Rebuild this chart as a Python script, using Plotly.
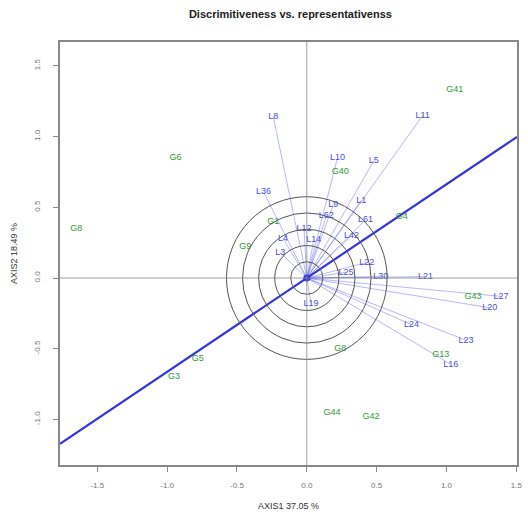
import numpy as np
import plotly.graph_objects as go

# Genotypes (green)
gen_labels = ["G41", "G6", "G8", "G40", "G4", "G1", "G9", "G43", "G8", "G13", "G5", "G3", "G44", "G42"]
gen_x = [1.06, -0.94, -1.65, 0.24, 0.68, -0.24, -0.44, 1.19, 0.24, 0.96, -0.78, -0.95, 0.18, 0.46]
gen_y = [1.33, 0.85, 0.35, 0.75, 0.43, 0.40, 0.22, -0.13, -0.50, -0.54, -0.57, -0.70, -0.95, -0.98]

# Environments (blue vectors)
env_labels = ["L8", "L11", "L10", "L5", "L36", "L1", "L9", "L62", "L61", "L12", "L42", "L4",
              "L14", "L3", "L22", "L25", "L30", "L21", "L27", "L20", "L24", "L23", "L16", "L19"]
env_x = [-0.24, 0.83, 0.22, 0.48, -0.31, 0.39, 0.19, 0.14, 0.42, -0.02, 0.32, -0.17,
         0.05, -0.19, 0.43, 0.28, 0.53, 0.85, 1.39, 1.31, 0.75, 1.14, 1.03, 0.03]
env_y = [1.14, 1.15, 0.85, 0.83, 0.61, 0.55, 0.52, 0.44, 0.41, 0.35, 0.30, 0.28,
         0.27, 0.18, 0.11, 0.04, 0.01, 0.01, -0.13, -0.21, -0.33, -0.44, -0.61, -0.18]

circle_radii = [0.115, 0.23, 0.345, 0.46, 0.575]
aea_slope = 0.663

x_range = [-1.767, 1.505]
y_range = [-1.322, 1.669]
ticks = [-1.5, -1.0, -0.5, 0.0, 0.5, 1.0, 1.5]

fig = go.Figure()

# Environment vectors
vx, vy = [], []
for x, y in zip(env_x, env_y):
    vx += [0, x, None]
    vy += [0, y, None]
fig.add_trace(go.Scatter(x=vx, y=vy, mode="lines",
                         line=dict(color="rgba(90,90,240,0.55)", width=0.8),
                         hoverinfo="skip", showlegend=False))

# Circles
for r in circle_radii:
    fig.add_shape(type="circle", xref="x", yref="y", x0=-r, y0=-r, x1=r, y1=r,
                  line=dict(color="#555555", width=1))

# Cross lines
fig.add_shape(type="line", xref="x", yref="y", x0=x_range[0], x1=x_range[1], y0=0, y1=0,
              line=dict(color="#888888", width=0.8))
fig.add_shape(type="line", xref="x", yref="y", x0=0, x1=0, y0=y_range[0], y1=y_range[1],
              line=dict(color="#888888", width=0.8))

# Average environment axis
fig.add_trace(go.Scatter(x=[x_range[0], x_range[1]],
                         y=[aea_slope * x_range[0], aea_slope * x_range[1]],
                         mode="lines", line=dict(color="#3535e0", width=2.2),
                         hoverinfo="skip", showlegend=False))
fig.add_trace(go.Scatter(x=[0], y=[0], mode="markers",
                         marker=dict(color="#3535e0", size=7, symbol="circle"),
                         hoverinfo="skip", showlegend=False))

# Genotype labels
fig.add_trace(go.Scatter(x=gen_x, y=gen_y, mode="text", text=gen_labels,
                         textfont=dict(color="#2f9a2f", size=9, family="Liberation Sans"),
                         showlegend=False))

# Environment labels
fig.add_trace(go.Scatter(x=env_x, y=env_y, mode="text", text=env_labels,
                         textfont=dict(color="#4a4ae6", size=9, family="Liberation Sans"),
                         showlegend=False))

axis_common = dict(showgrid=False, zeroline=False, showline=True, mirror=True,
                   linecolor="#888888", linewidth=1.8, ticks="outside", ticklen=5,
                   tickcolor="#888888", tickfont=dict(size=8, color="#777777",
                                                      family="Liberation Sans"),
                   tickvals=ticks, ticktext=[f"{t:.1f}" for t in ticks])

fig.update_layout(
    width=528, height=519,
    margin=dict(l=60, r=6, t=42, b=54),
    plot_bgcolor="white", paper_bgcolor="white",
    title=dict(text="<b>Discrimitiveness vs. representativenss</b>", x=0.55, xanchor="center",
               y=0.972, yanchor="middle",
               font=dict(size=11, color="#222222", family="Liberation Sans")),
    xaxis=dict(range=x_range, ticklabelstandoff=6,
               title=dict(text="AXIS1 37.05 %", standoff=14,
                          font=dict(size=9, color="#333333", family="Liberation Sans")),
               **axis_common),
    yaxis=dict(range=y_range, tickangle=-90, ticklabelstandoff=10,
               title=dict(text="AXIS2 18.49 %", standoff=14,
                          font=dict(size=9, color="#333333", family="Liberation Sans")),
               **axis_common),
)

fig.write_html("out.html")
